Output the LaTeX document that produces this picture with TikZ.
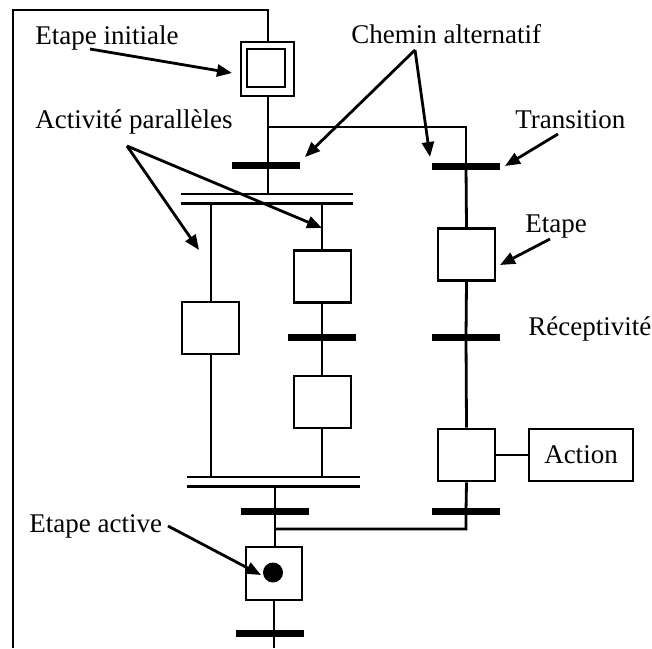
\documentclass[tikz,border=0pt]{standalone}
\usepackage{fontspec}
\setmainfont{Liberation Serif}
\usetikzlibrary{arrows.meta}
\begin{document}
\begin{tikzpicture}[x=1pt,y=-1pt,
  line width=2.8pt,
  stepbox/.style={draw,rectangle,inner sep=0pt,minimum width=57pt,minimum height=52pt},
  trans/.style={fill=black,rectangle,inner sep=0pt,minimum width=68pt,minimum height=7pt},
  parbar/.style={rectangle,inner sep=0pt,minimum height=7pt},
  lbl/.style={inner sep=0pt,font=\fontsize{27}{31}\selectfont},
  callout/.style={line width=2.8pt,-{Triangle[length=15pt,width=12pt]}},
  dbl/.style={line width=2.2pt}]
\useasboundingbox (0,0) rectangle (652,648);

% initial step (double frame)
\node[draw,rectangle,inner sep=0pt,minimum width=53pt,minimum height=54pt] (init) at (267.5,69) {};
\node[draw,rectangle,inner sep=0pt,minimum width=38pt,minimum height=38pt] (initin) at (266,68) {};

% steps
\node[stepbox] (s1) at (210.5,328) {};
\node[stepbox] (s2) at (322.5,276.5) {};
\node[stepbox] (s3) at (322.5,402) {};
\node[stepbox] (se) at (466.5,254.5) {};
\node[stepbox] (sa) at (466.5,455) {};
\node[stepbox,minimum width=56pt,minimum height=53pt] (sx) at (274,573.5) {};
\fill (sx.center) ++(-1,-1) circle (10pt);
\node[draw,rectangle,inner sep=0pt,minimum width=104pt,minimum height=52pt,lbl] (act) at (581,455) {Action};

% transitions
\node[trans] (t1) at (266,165) {};
\node[trans] (t2) at (466,166) {};
\node[trans] (t3) at (322,337) {};
\node[trans] (t4) at (466,337) {};
\node[trans] (t5) at (275,511) {};
\node[trans] (t6) at (466,511) {};
\node[trans] (t7) at (270,633) {};

% parallel divergence / convergence bars
\node[parbar,minimum width=170pt] (p1) at (267,198.5) {};
\node[parbar,minimum width=171pt] (p2) at (273.5,481.5) {};
\draw[dbl] (p1.north west) -- (p1.north east) (p1.south west) -- (p1.south east);
\draw[dbl] (p2.north west) -- (p2.north east) (p2.south west) -- (p2.south east);

% auxiliary points of the wiring
\coordinate (loopL) at (13,648);
\coordinate (loopT) at (13,10);
\coordinate (loopR) at (268,10);
\coordinate (fork) at (268,127);
\coordinate (join) at (466,529);
\coordinate (joinL) at (275,529);
\coordinate (endB) at (274,648);
\coordinate (b1) at (211,202);
\coordinate (b2) at (322,202);
\coordinate (c1) at (211,478);
\coordinate (c2) at (322,478);

% wiring
\draw (loopL) -- (loopT) -- (loopR) -- (loopR |- init.north);
\draw (init.south -| loopR) -- (loopR |- p1.north);
\draw (fork) -| (t2.center);
\draw (t2.center) -- (se.north);
\draw (se.south) -- (t4.center) -- (sa.north);
\draw (sa.south) -- (t6.center) -- (join) -- (joinL);
\draw (sa.east) -- (act.west);
\draw (b1) -- (s1.north -| b1);
\draw (s1.south -| c1) -- (c1);
\draw (b2) -- (s2.north -| b2);
\draw (s2.south -| b2) -- (t3.center) -- (s3.north -| b2);
\draw (s3.south -| c2) -- (c2);
\draw (275,485) -- (t5.center) -- (sx.north -| t5);
\draw (sx.south) -- (endB);

% labels
\node[lbl,anchor=base west] (l1) at (34,44) {Etape initiale};
\node[lbl,anchor=base west] (l2) at (34,128) {Activité parallèles};
\node[lbl,anchor=base west] (l3) at (350,43) {Chemin alternatif};
\node[lbl,anchor=base west] (l4) at (514,128) {Transition};
\node[lbl,anchor=base west] (l5) at (524,232) {Etape};
\node[lbl,anchor=base west] (l6) at (527,335) {Réceptivité};
\node[lbl,anchor=base west] (l7) at (28,532) {Etape active};

% callout arrows
\coordinate (a1) at (90,49);
\coordinate (a2) at (127,146);
\coordinate (a3) at (415,50);
\coordinate (a4) at (558,134);
\coordinate (a5) at (550,239);
\coordinate (a6) at (168,526);
\draw[callout] (a1) -- (232,73);
\draw[callout] (a2) -- (199,250);
\draw[callout] (a2) -- (322,228);
\draw[callout] (a3) -- (305,157);
\draw[callout] (a3) -- (430,157);
\draw[callout] (a4) -- (505,166);
\draw[callout] (a5) -- (500,265);
\draw[callout] (a6) -- (261,575);
\end{tikzpicture}
\end{document}
